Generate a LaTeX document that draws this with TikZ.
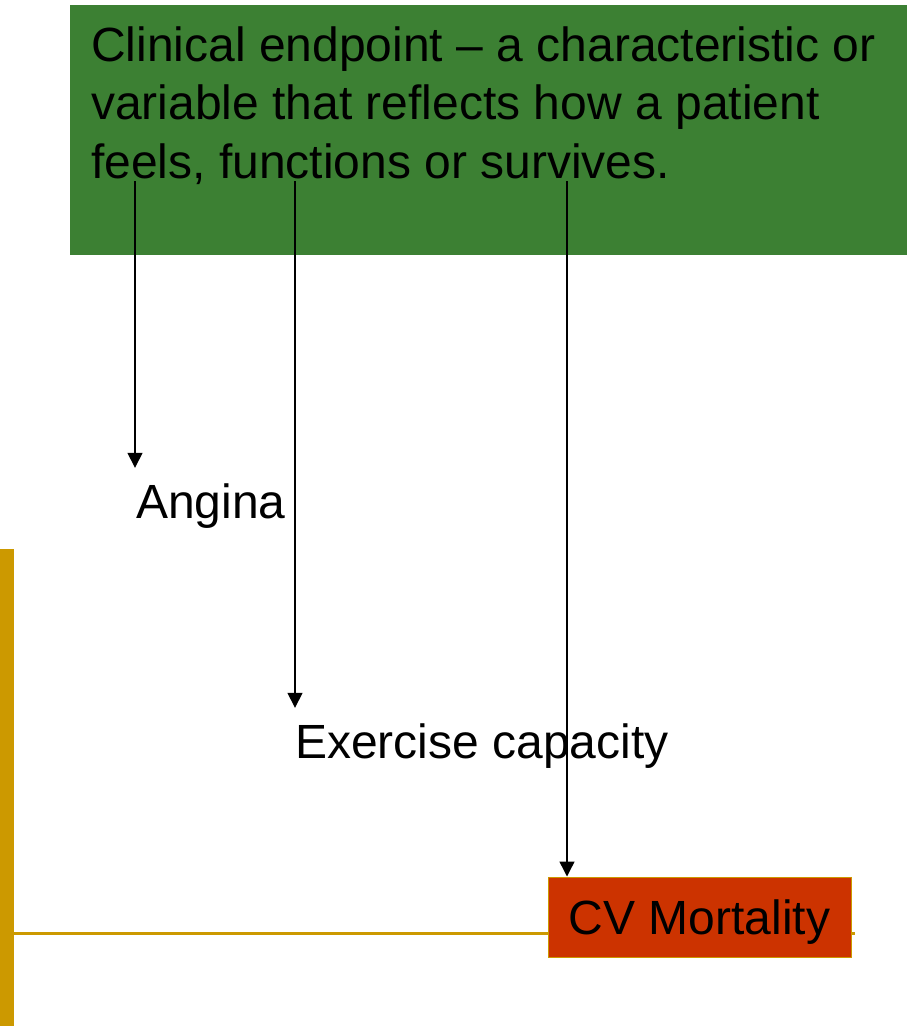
\documentclass[tikz,border=0pt]{standalone}
\usepackage{fontspec}
\setmainfont{Liberation Sans}
\usetikzlibrary{arrows.meta}
\definecolor{leafgreen}{RGB}{60,128,51}
\definecolor{ochre}{RGB}{204,153,0}
\definecolor{brick}{RGB}{204,51,0}
\tikzset{
  bigtext/.style={font=\fontsize{48}{58.5}\selectfont},
  term/.style={bigtext, inner xsep=0pt, inner ysep=0pt, text height=50pt, anchor=base west},
  link/.style={line width=1.4pt, -{Triangle[width=15pt,length=15pt]}},
  outcomebox/.style={bigtext, fill=brick, draw=ochre, line width=1pt, text depth=0pt,
    minimum width=303pt, minimum height=80pt, inner sep=0pt},
}
\begin{document}
\begin{tikzpicture}[x=1pt,y=-1pt]
\useasboundingbox (0,0) rectangle (907,1026);
% ochre frame: left bar and rule
\fill[ochre] (0,549) rectangle (14,1026);
\draw[ochre, line width=3pt] (14,933.5) -- (855,933.5);
% definition panel
\node[fill=leafgreen, anchor=north west, minimum width=837pt, minimum height=250pt, inner sep=0pt] (panel) at (70,5) {};
\node[bigtext, anchor=base west, align=left, inner sep=0pt] (endpoint) at (91,178)
  {Clinical endpoint -- a characteristic or\\variable that reflects how a patient\\feels, functions or survives.};
\coordinate (s1) at (135,181);
\coordinate (s2) at (295,181);
\coordinate (s3) at (567,181);
% endpoint examples
\node[term] (angina) at (136,518) {Angina};
\node[term] (exercise) at (295,758) {Exercise capacity};
\node[outcomebox] (mortality) at (699.5,917) {CV Mortality};
\draw[link] (s1) -- (s1 |- angina.north);
\draw[link] (s2) -- (s2 |- exercise.north);
\draw[link] (s3) -- (s3 |- mortality.north);
\end{tikzpicture}
\end{document}
